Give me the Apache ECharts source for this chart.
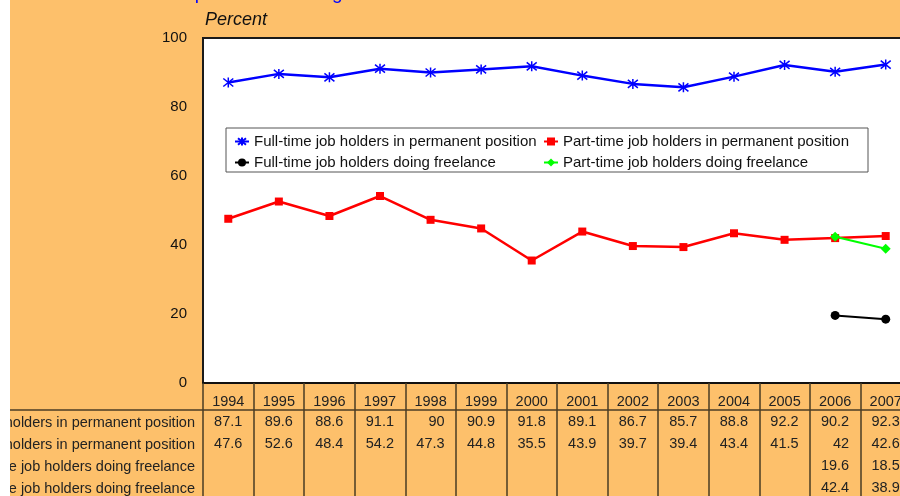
<!DOCTYPE html>
<html><head><meta charset="utf-8">
<script src="https://cdn.jsdelivr.net/npm/echarts@6/dist/echarts.min.js"></script>
<style>
html,body{margin:0;padding:0;background:#fff;width:900px;height:496px;overflow:hidden;position:relative}
#c{position:absolute;left:10px;top:0;width:912px;height:496px}
</style>
</head><body><div id="c"></div>
<script>
const years = ['1994','1995','1996','1997','1998','1999','2000','2001','2002','2003','2004','2005','2006','2007'];
const ftPerm = [87.1, 89.6, 88.6, 91.1, 90, 90.9, 91.8, 89.1, 86.7, 85.7, 88.8, 92.2, 90.2, 92.3];
const ptPerm = [47.6, 52.6, 48.4, 54.2, 47.3, 44.8, 35.5, 43.9, 39.7, 39.4, 43.4, 41.5, 42, 42.6];
const ftFree = [null, null, null, null, null, null, null, null, null, null, null, null, 19.6, 18.5];
const ptFree = [null, null, null, null, null, null, null, null, null, null, null, null, 42.4, 38.9];
const seriesNames = [
  'Full-time job holders in permanent position',
  'Part-time job holders in permanent position',
  'Full-time job holders doing freelance',
  'Part-time job holders doing freelance'
];
const yMin = 0, yMax = 100, yStep = 20;
const titleText = "Job holders' opinion on working hours";
const yName = 'Percent';

const FONT = '"Liberation Sans", Arial, sans-serif';
const BG = '#FDC06B';
const TABLE_LINE = '#4a3c24';

const chart = echarts.init(document.getElementById('c'), null, {renderer: 'canvas'});

const rows = [ftPerm, ptPerm, ftFree, ptFree];
const rowMargins = [30.5, 52.5, 75, 96.5];

const xAxes = [{
  type: 'category', data: years, gridIndex: 0, position: 'bottom', boundaryGap: true,
  axisLine: {show: true, onZero: false, lineStyle: {color: '#111', width: 2}},
  axisTick: {show: true, length: 115, lineStyle: {color: TABLE_LINE, width: 1.5}},
  axisLabel: {interval: 0, margin: 11, color: '#222', fontSize: 14.5, lineHeight: 16, fontFamily: FONT},
  splitLine: {show: false}
}];
rows.forEach((r, i) => {
  xAxes.push({
    type: 'category', gridIndex: 0, position: 'bottom', boundaryGap: true,
    data: r.map(v => v == null ? '' : String(v)),
    axisLine: {show: false}, axisTick: {show: false}, splitLine: {show: false},
    axisLabel: {
      interval: 0, margin: rowMargins[i], color: '#222', fontSize: 14.5, lineHeight: 16, fontFamily: FONT,
      formatter: v => v === '' ? '' : '{a|' + v + '}',
      rich: {a: {width: 28, align: 'right', fontSize: 14.5, lineHeight: 16, color: '#222', fontFamily: FONT}}
    }
  });
});

const legendCommon = {
  orient: 'horizontal', padding: 0, itemWidth: 14, itemHeight: 10, itemGap: 0,
  selectedMode: false, z: 6,
  textStyle: {fontSize: 15, color: '#111', fontFamily: FONT}
};
const legendPos = [[224, 134], [533, 134], [224, 155], [533, 155]];

const option = {
  animation: false,
  backgroundColor: BG,
  textStyle: {fontFamily: FONT},
  grid: {left: 193, top: 38, width: 708, height: 345, show: true, backgroundColor: '#fff',
         borderColor: '#1a1a1a', borderWidth: 2, containLabel: false},
  xAxis: xAxes,
  yAxis: {
    type: 'value', min: yMin, max: yMax, interval: yStep,
    axisLine: {show: false}, axisTick: {show: false}, splitLine: {show: false},
    axisLabel: {margin: 16, color: '#111', fontSize: 15, fontFamily: FONT}
  },
  legend: seriesNames.map((n, i) => Object.assign({}, legendCommon, {data: [n], left: legendPos[i][0], top: legendPos[i][1]})),
  graphic: [
    {type: 'text', left: 67, top: -16, z: 10, silent: true,
     style: {text: titleText, fill: '#0000FF', font: '19px ' + FONT}},
    {type: 'text', left: 195, top: 11, z: 10, silent: true,
     style: {text: yName, fill: '#111', font: 'italic 18px ' + FONT}},
    {type: 'rect', shape: {x: 216, y: 128, width: 642, height: 44}, z: 3, silent: true,
     style: {fill: '#fff', stroke: '#555', lineWidth: 1}},
    {type: 'line', shape: {x1: 0, y1: 410, x2: 912, y2: 410}, z: 3, silent: true,
     style: {stroke: TABLE_LINE, lineWidth: 1.5}},
  ].concat(seriesNames.map((n, i) => ({
    type: 'text', z: 10, silent: true, x: 185, y: 383 + rowMargins[i] + 9,
    style: {text: n, fill: '#222', font: '14.5px ' + FONT, align: 'right', verticalAlign: 'middle'}
  }))),
  series: [
    {name: seriesNames[0], type: 'line', data: ftPerm, xAxisIndex: 0,
     symbol: 'path://M5,0L5,10M1,1L9,9M1,9L9,1', symbolSize: 10,
     itemStyle: {color: '#0000FF', borderColor: '#0000FF', borderWidth: 1.5},
     lineStyle: {color: '#0000FF', width: 2.5}},
    {name: seriesNames[1], type: 'line', data: ptPerm, xAxisIndex: 0,
     symbol: 'rect', symbolSize: 8,
     itemStyle: {color: '#FF0000'}, lineStyle: {color: '#FF0000', width: 2.5}},
    {name: seriesNames[2], type: 'line', data: ftFree, xAxisIndex: 0,
     symbol: 'circle', symbolSize: 9,
     itemStyle: {color: '#000000'}, lineStyle: {color: '#000000', width: 2}},
    {name: seriesNames[3], type: 'line', data: ptFree, xAxisIndex: 0,
     symbol: 'diamond', symbolSize: 10,
     itemStyle: {color: '#00FF00'}, lineStyle: {color: '#00FF00', width: 2}}
  ]
};
chart.setOption(option);
</script></body></html>
